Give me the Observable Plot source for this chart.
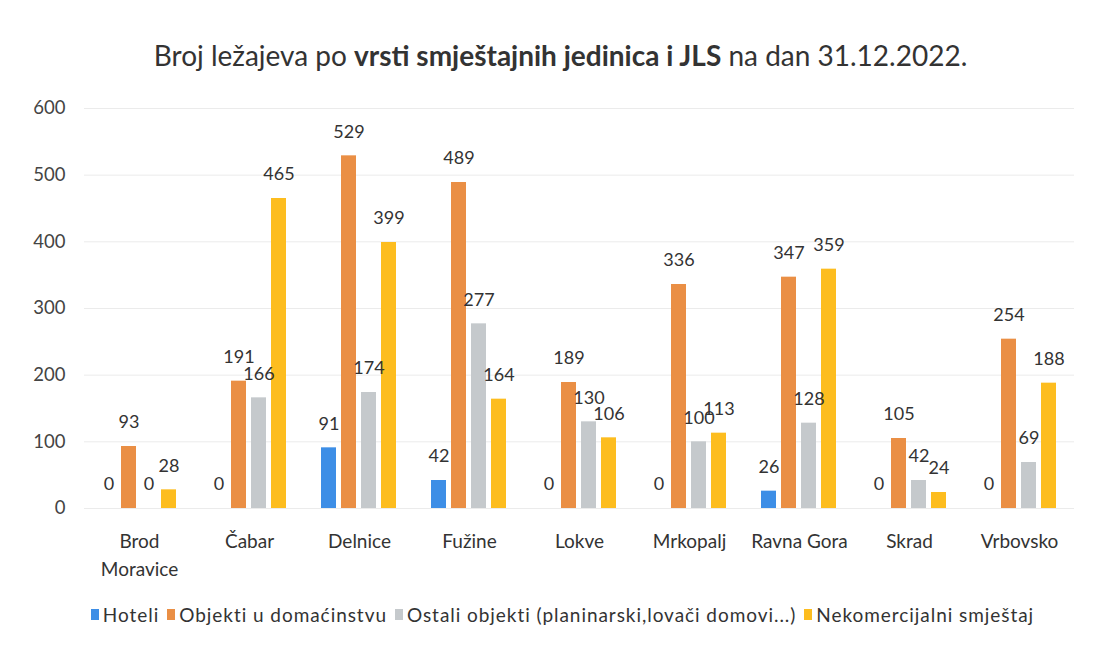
<!DOCTYPE html>
<html>
<head>
<meta charset="utf-8">
<script src="https://cdn.jsdelivr.net/npm/d3@7"></script>
<script src="https://cdn.jsdelivr.net/npm/@observablehq/plot@0.6"></script>
<style>
  body { margin: 0; background: #fff; font-family: Lato, "Open Sans", sans-serif; color: #333; }
  #title { height: 88px; box-sizing: border-box; padding-top: 38px; padding-left: 26px; text-align: center; font-size: 28px; line-height: 34px; color: #333; }
  #legend { display: flex; justify-content: center; align-items: center; padding-left: 30px; margin-top: 15px; font-size: 19px; letter-spacing: 0.95px; gap: 8px; color: #333; }
  #legend .item { display: flex; align-items: center; gap: 4px; }
  #legend .sw { width: 8px; height: 11px; display: inline-block; }
</style>
</head>
<body>
<div id="title">Broj ležajeva po <b>vrsti smještajnih jedinica i JLS</b> na dan 31.12.2022.</div>
<div id="chart"></div>
<div id="legend"></div>
<script>
const categories = ["Brod Moravice", "Čabar", "Delnice", "Fužine", "Lokve", "Mrkopalj", "Ravna Gora", "Skrad", "Vrbovsko"];
const seriesNames = ["Hoteli", "Objekti u domaćinstvu", "Ostali objekti (planinarski,lovači domovi...)", "Nekomercijalni smještaj"];
const hoteli = [0, 0, 91, 42, 0, 0, 26, 0, 0];
const objekti = [93, 191, 529, 489, 189, 336, 347, 105, 254];
const ostali = [0, 166, 174, 277, 130, 100, 128, 42, 69];
const nekomercijalni = [28, 465, 399, 164, 106, 113, 359, 24, 188];
const yTicks = [0, 100, 200, 300, 400, 500, 600];
const colors = ["#3d8ee6", "#ea8f45", "#c5c9cc", "#fdbd1f"];

const seriesValues = [hoteli, objekti, ostali, nekomercijalni];
const data = [];
categories.forEach((c, i) => {
  seriesNames.forEach((s, j) => {
    data.push({cat: c, series: s, value: seriesValues[j][i]});
  });
});

const chart = Plot.plot({
  width: 1095,
  height: 500,
  marginLeft: 81,
  marginRight: 19,
  marginTop: 20,
  marginBottom: 80,
  style: {fontFamily: "Lato, 'Open Sans', sans-serif", color: "#333", background: "#fff"},
  fx: {domain: categories, padding: 0, label: null},
  x: {domain: seriesNames, paddingInner: 0.24, paddingOuter: 0.76, axis: null},
  y: {domain: [0, 600], label: null},
  color: {domain: seriesNames, range: colors},
  marks: [
    Plot.gridY(yTicks, {stroke: "#ebebeb", strokeOpacity: 1}),
    Plot.barY(data, {fx: "cat", x: "series", y: "value", fill: "series"}),
    Plot.text(data, {fx: "cat", x: "series", y: "value", text: d => String(d.value), dy: -24, fontSize: 18, fill: "#333"}),
    Plot.axisY({ticks: yTicks, tickSize: 0, tickPadding: 19, fontSize: 18.5, label: null, fill: "#444"}),
    Plot.axisFx({anchor: "bottom", tickSize: 0, tickPadding: 19, fontSize: 19, lineHeight: 1.5, label: null,
      tickFormat: d => d === "Brod Moravice" ? "Brod\nMoravice" : d})
  ]
});
document.getElementById("chart").appendChild(chart);

const legend = document.getElementById("legend");
seriesNames.forEach((s, i) => {
  const item = document.createElement("span");
  item.className = "item";
  const sw = document.createElement("span");
  sw.className = "sw";
  sw.style.background = colors[i];
  item.appendChild(sw);
  item.appendChild(document.createTextNode(s));
  legend.appendChild(item);
});
</script>
</body>
</html>
